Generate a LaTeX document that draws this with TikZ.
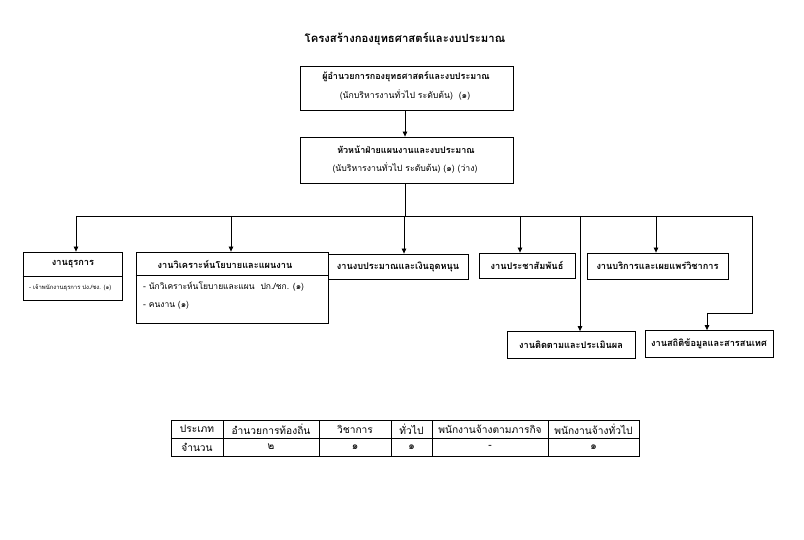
\documentclass[tikz,border=0pt]{standalone}
\usepackage{fontspec}
\setmainfont[Script=Thai]{Loma}
\usetikzlibrary{arrows.meta}
\tikzset{
  line/.style={line width=0.8pt, black},
  arr/.style={line, -{Triangle[length=5pt,width=4.5pt]}},
  box/.style={draw, line width=0.8pt, inner sep=0pt, align=center},
  hd/.style={font=\fontsize{9}{11}\selectfont\bfseries, inner sep=0pt},
  lb/.style={font=\fontsize{9.2}{11}\selectfont\bfseries},
  tx/.style={font=\fontsize{8.7}{10}\selectfont, inner sep=0pt},
  it/.style={font=\fontsize{8.5}{10}\selectfont, inner sep=0pt},
  sm/.style={font=\fontsize{5.9}{7}\selectfont, inner sep=0pt},
  cell/.style={font=\fontsize{10.2}{12}\selectfont, inner sep=0pt}
}
\begin{document}
\begin{tikzpicture}[x=1pt,y=-1pt]
\useasboundingbox[fill=white] (0,0) rectangle (804,540);
% title
\node[font=\fontsize{11.3}{13}\selectfont\bfseries, inner sep=0pt] (title) at (405,39) {โครงสร้างกองยุทธศาสตร์และงบประมาณ};
% box 1
\node[box, minimum width=213pt, minimum height=44pt] (b1) at (406.5,88) {};
\node[hd] (b1a) at (406,77) {ผู้อำนวยการกองยุทธศาสตร์และงบประมาณ};
\node[tx] (b1b) at (405,95) {(นักบริหารงานทั่วไป ระดับต้น)\ \ (๑)};
% box 2
\node[box, minimum width=213pt, minimum height=46pt] (b2) at (406.5,160) {};
\node[hd] (b2a) at (406,150) {หัวหน้าฝ่ายแผนงานและงบประมาณ};
\node[tx] (b2b) at (405,168) {(นับริหารงานทั่วไป ระดับต้น) (๑) (ว่าง)};
\draw[arr] (b1.south -| 405,0) -- (b2.north -| 405,0);
% bus
\coordinate (bL) at (76,216);
\coordinate (bR) at (752,216);
\coordinate (bM) at (405,216);
\coordinate (t2) at (231,216);
\coordinate (t3) at (404,216);
\coordinate (t4) at (520,216);
\coordinate (t5) at (580,216);
\coordinate (t6) at (656,216);
\coordinate (k1) at (752,313);
\coordinate (k2) at (707,313);
\draw[line] (b2.south -| 405,0) -- (bM);
\draw[line] (bL) -- (bR);
% lower boxes
\node[box, minimum width=99pt, minimum height=48pt] (g1) at (72.5,276) {};
\draw[line] (g1.west |- 0,276) -- (g1.east |- 0,276);
\node[lb, inner sep=0pt] (g1a) at (73,264) {งานธุรการ};
\node[sm, anchor=west] (g1b) at (29,288) {- เจ้าพนักงานธุรการ ปง./ชง. (๑)};

\node[box, minimum width=192pt, minimum height=71pt] (g2) at (232,287.5) {};
\draw[line] (g2.west |- 0,275) -- (g2.east |- 0,275);
\node[lb, inner sep=0pt] (g2a) at (225,264) {งานวิเคราะห์นโยบายและแผนงาน};
\node[it, anchor=west] (g2b) at (143,287) {- นักวิเคราะห์นโยบายและแผน\ \ ปก./ชก. (๑)};
\node[it, anchor=west] (g2c) at (143,305) {- คนงาน (๑)};

\node[box, lb, minimum width=140pt, minimum height=25pt] (g3) at (398,266.5) {งานงบประมาณและเงินอุดหนุน};
\node[box, lb, minimum width=96pt, minimum height=25pt] (g4) at (527,265.5) {งานประชาสัมพันธ์};
\node[box, lb, minimum width=141pt, minimum height=26pt] (g6) at (657.5,266) {งานบริการและเผยแพร่วิชาการ};
\node[box, lb, minimum width=128pt, minimum height=27pt] (g5) at (571,345) {งานติดตามและประเมินผล};
\node[box, lb, minimum width=128pt, minimum height=27pt] (g7) at (709,344) {งานสถิติข้อมูลและสารสนเทศ};

\draw[arr] (bL) -- (bL |- g1.north);
\draw[arr] (t2) -- (t2 |- g2.north);
\draw[arr] (t3) -- (t3 |- g3.north);
\draw[arr] (t4) -- (t4 |- g4.north);
\draw[arr] (t6) -- (t6 |- g6.north);
\draw[arr] (t5) -- (t5 |- g5.north);
\draw[line] (bR) -- (k1) -- (k2);
\draw[arr] (k2) -- (k2 |- g7.north);

% table
\node[draw, line width=0.8pt, minimum width=468pt, minimum height=36pt, inner sep=0pt] (tbl) at (405,438) {};
\draw[line] (tbl.west) -- (tbl.east);
\foreach \x in {223,319,391,432,548} \draw[line] (\x,420) -- (\x,456);
\node[cell] (c11) at (197,429) {ประเภท};
\node[cell] (c12) at (271,429) {อำนวยการท้องถิ่น};
\node[cell] (c13) at (355,429) {วิชาการ};
\node[cell] (c14) at (411.5,429) {ทั่วไป};
\node[cell] (c15) at (490,429) {พนักงานจ้างตามภารกิจ};
\node[cell] (c16) at (593.5,429) {พนักงานจ้างทั่วไป};
\node[cell] (c21) at (197,447) {จำนวน};
\node[cell] (c22) at (271,447) {๒};
\node[cell] (c23) at (355,447) {๑};
\node[cell] (c24) at (411.5,447) {๑};
\node[cell] (c25) at (490,447) {-};
\node[cell] (c26) at (593.5,447) {๑};
\end{tikzpicture}
\end{document}
